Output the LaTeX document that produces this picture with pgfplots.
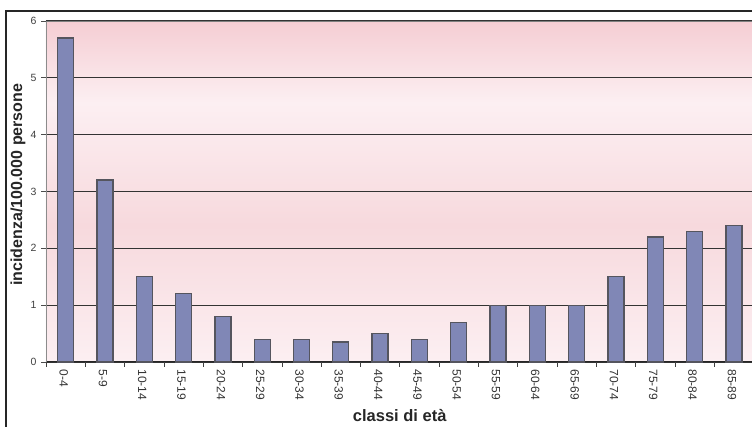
\documentclass[border=0pt]{standalone}
\usepackage{pgfplots}
\pgfplotsset{compat=1.18}
\usepackage{fontspec}
\setmainfont{Liberation Sans}
\definecolor{pkD}{HTML}{F5CDD3}
\definecolor{pkM}{HTML}{F7D9DD}
\definecolor{pkL}{HTML}{FCEFF2}
\definecolor{barc}{HTML}{8087B6}
\definecolor{bard}{HTML}{55555E}
\pgfdeclareverticalshading{bgshade}{100bp}{color(0bp)=(pkL); color(25bp)=(pkL); color(45bp)=(pkM); color(63bp)=(pkL); color(75bp)=(pkD); color(100bp)=(pkD)}
\begin{document}
\begin{tikzpicture}[x=1pt,y=1pt]
\useasboundingbox (-46,-65) rectangle (706,362);
\draw[line width=1.3pt,color=black!85] (-40,-80) -- (-40,351) -- (800,351);
\begin{axis}[
  at={(0,0)}, anchor=south west,
  scale only axis, width=706pt, height=341pt,
  xmin=-0.5, xmax=17.46, ymin=0, ymax=6,
  axis x line*=bottom, axis y line*=left,
  x axis line style={black!85, line width=1pt},
  y axis line style={black!45, line width=0.9pt},
  axis background/.style={shading=bgshade},
  ybar, bar width=16pt,
  xtick={0,...,17},
  xticklabels={0-4,5-9,10-14,15-19,20-24,25-29,30-34,35-39,40-44,45-49,50-54,55-59,60-64,65-69,70-74,75-79,80-84,85-89},
  major x tick style={draw=none},
  minor xtick={-0.5,0.5,...,17.5},
  minor x tick style={black!75, line width=0.7pt},
  minor tick length=5pt,
  ytick={0,1,...,6},
  y tick style={black!70, line width=0.7pt},
  major tick length=5pt,
  tick align=outside,
  ymajorgrids, grid style={black!80, line width=1.1pt},
  /pgf/number format/assume math mode=true,
  yticklabel style={font=\fontsize{10.5}{12}\selectfont, text=black!75, xshift=-1pt},
  xticklabel style={font=\fontsize{12}{14}\selectfont, text=black!80, rotate=-90, anchor=west, xshift=-1pt, yshift=-2pt},
  ylabel={\textbf{incidenza/100.000 persone}},
  ylabel style={font=\fontsize{16}{19}\selectfont, text=black!85, at={(axis description cs:-0.0397,0.52)}, anchor=center},
  xlabel={\textbf{classi di età}},
  xlabel style={font=\fontsize{16.5}{19}\selectfont, text=black!85, at={(axis description cs:0.501,-0.158)}, anchor=center},
  clip=false,
]
\addplot[fill=barc, draw=bard, line width=1.3pt] coordinates {
(0,5.7) (1,3.2) (2,1.5) (3,1.2) (4,0.8) (5,0.4) (6,0.4) (7,0.35) (8,0.5) (9,0.4)
(10,0.7) (11,1.0) (12,1.0) (13,1.0) (14,1.5) (15,2.2) (16,2.3) (17,2.4)};
\draw[black!50, line width=0.9pt] (axis cs:-0.5,6) -- (axis cs:17.46,6);
\end{axis}
\end{tikzpicture}
\end{document}
